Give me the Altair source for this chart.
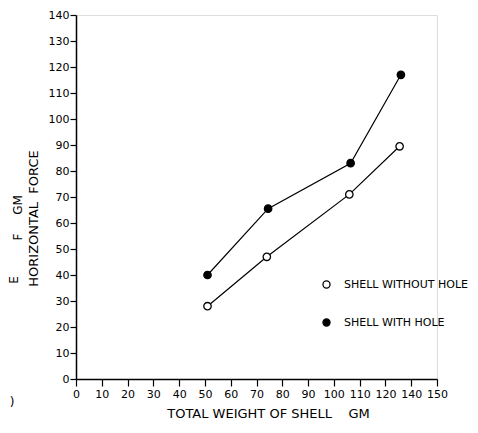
import altair as alt
import pandas as pd

# data
weight_without = [51, 74, 106, 125.5]
force_without = [28, 47, 71, 89.5]
weight_with = [51, 74.5, 106.5, 126]
force_with = [40, 65.5, 83, 117]
series_names = ["SHELL WITHOUT HOLE", "SHELL WITH HOLE"]
x_ticks = list(range(0, 141, 10))
y_ticks = list(range(0, 141, 10))

rows = []
for x, y in zip(weight_without, force_without):
    rows.append({"weight": x, "force": y, "series": series_names[0]})
for x, y in zip(weight_with, force_with):
    rows.append({"weight": x, "force": y, "series": series_names[1]})
df = pd.DataFrame(rows)

FONT = "DejaVu Sans"
NB = "\u00a0"

x_axis = alt.Axis(
    values=x_ticks,
    labelExpr="datum.value == 130 ? '140' : (datum.value == 140 ? '150' : datum.label)",
    labelOverlap=False,
    title="TOTAL WEIGHT OF SHELL" + NB * 4 + "GM",
    titleFont=FONT, titleFontSize=13, titleFontWeight="normal",
    titleX=192, titleY=34, titleBaseline="middle", titleAlign="center",
    titleColor="black",
    labelFont=FONT, labelFontSize=11, labelColor="black", labelPadding=2,
    tickSize=7, tickColor="black", tickWidth=1.2,
    domainColor="black", domainWidth=1.5, grid=False, labelFlush=False,
)
y_axis = alt.Axis(
    values=y_ticks,
    labelOverlap=False,
    title="HORIZONTAL" + NB * 2 + "FORCE",
    titleFont=FONT, titleFontSize=13, titleFontWeight="normal",
    titleX=-43, titleY=203, titleBaseline="middle", titleAlign="center",
    titleColor="black",
    labelFont=FONT, labelFontSize=11, labelColor="black", labelPadding=1,
    tickSize=6, tickColor="black", tickWidth=1.2,
    domainColor="black", domainWidth=1.5, grid=False, labelFlush=False,
)

x_enc = alt.X("weight:Q", scale=alt.Scale(domain=[0, 140], nice=False), axis=x_axis)
y_enc = alt.Y("force:Q", scale=alt.Scale(domain=[0, 140], nice=False), axis=y_axis)

lines = alt.Chart(df).mark_line(color="black", strokeWidth=1.2).encode(
    x=x_enc, y=y_enc, detail="series:N"
)

points = alt.Chart(df).mark_point(
    filled=True, size=55, stroke="black", strokeWidth=1.3, opacity=1
).encode(
    x=x_enc,
    y=y_enc,
    fill=alt.Fill(
        "series:N",
        scale=alt.Scale(domain=series_names, range=["white", "black"]),
        legend=alt.Legend(
            orient="none", legendX=245, legendY=264, title=None,
            labelFont=FONT, labelFontSize=11, labelColor="black",
            labelOffset=12, rowPadding=25, symbolSize=50,
            symbolStrokeColor="black", symbolStrokeWidth=1.3,
            symbolType="circle",
        ),
    ),
)

def frag(text, xpos, ypos, angle):
    return alt.Chart(pd.DataFrame({"t": [text]})).mark_text(
        font=FONT, fontSize=12, angle=angle, color="black"
    ).encode(text="t:N", x=alt.value(xpos), y=alt.value(ypos))

frag_gm = frag("GM", -58, 190, 270)
frag_f = frag("F", -58, 222, 270)
frag_e = frag("E", -62, 265, 270)
frag_p = frag(")", -64, 387, 0)

chart = alt.layer(lines, points, frag_gm, frag_f, frag_e, frag_p).properties(
    width=361, height=364,
    autosize=alt.AutoSizeParams(type="none"),
    padding={"left": 68, "top": 7, "right": 32, "bottom": 45},
).configure_view(stroke=None).configure(background="white")

chart.save("out.html", embed_options={"renderer": "svg", "actions": False})
